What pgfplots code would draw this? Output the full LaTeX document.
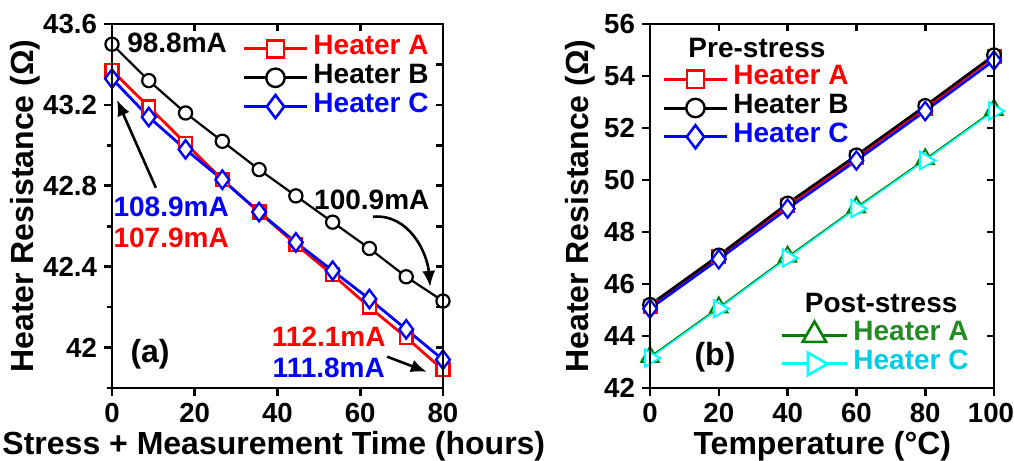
\documentclass[border=0pt]{standalone}
\usepackage{pgfplots}
\pgfplotsset{compat=1.18}
\usepackage{fontspec}
\setmainfont{Liberation Sans}
\usetikzlibrary{arrows.meta}
\definecolor{pgreen}{RGB}{0,128,0}
\definecolor{tgreen}{RGB}{34,139,34}
\definecolor{pcyan}{RGB}{0,255,255}
\definecolor{tcyan}{RGB}{0,204,230}
\newcommand{\fs}[1]{\fontsize{#1}{#1}\selectfont\bfseries}
\pgfplotsset{
  myaxis/.style={scale only axis, clip=false,
    axis line style={line width=1.3pt},
    tick style={line width=1.3pt, black},
    major tick length=4pt, minor tick length=2.5pt,
    tick label style={font=\fs{13.8}},
    /pgf/number format/assume math mode=true,
    legend cell align=left,
    legend image code/.code={\draw[mark repeat=2,mark phase=2,line width=1.5pt,##1] plot coordinates {(0pt,0pt) (15.75pt,0pt) (31.5pt,0pt)};},
  },
  overaxis/.style={scale only axis, clip=false,
    axis line style={line width=1.3pt},
    tick style={line width=1.3pt, black},
    major tick length=3.5pt,
    tick pos=right, tick align=inside,
    xticklabels={}, yticklabels={},
  },
  leg/.style={draw=none, fill=none, inner sep=0pt, font=\fs{14}, column sep=2.5pt,
    nodes={inner sep=0pt, text height=10pt, text depth=4.4pt}},
}
\begin{document}
\begin{tikzpicture}
\useasboundingbox (0,0) rectangle (507pt,230.5pt);
% ---------------- (a)
\begin{axis}[myaxis, at={(56pt,36.5pt)}, anchor=south west, width=165.5pt, height=182pt,
  xmin=0, xmax=80, ymin=41.8, ymax=43.6,
  xtick={0,20,40,60,80}, ytick={42,42.4,42.8,43.2,43.6},
  minor ytick={41.8,42.2,42.6,43.0,43.4},
  tick pos=left, tick align=outside,
  yticklabel style={/pgf/number format/.cd, fixed, precision=1},
  xlabel={Stress + Measurement Time (hours)},
  ylabel={Heater Resistance (Ω)},
  every axis x label/.style={at={(axis description cs:0.489,-0.184)}, anchor=base, font=\fs{16}},
  every axis y label/.style={at={(axis description cs:-0.263,0.5)}, rotate=90, anchor=center, font=\fs{16}},
  legend style={leg, at={(0.393,0.972)}, anchor=north west},
]
\addlegendimage{red, line width=1.5pt, mark=square*, mark size=4.3pt, mark options={fill=white, line width=1.3pt}}
\addlegendentry{\textcolor{red}{Heater A}}
\addlegendimage{black, line width=1.5pt, mark=*, mark size=4.6pt, mark options={fill=white, line width=1.2pt}}
\addlegendentry{\textcolor{black}{Heater B}}
\addlegendimage{blue, line width=1.5pt, mark=diamond*, mark size=5.8pt, mark options={fill=white, line width=1.3pt}}
\addlegendentry{\textcolor{blue}{Heater C}}
\addplot[red, line width=1.4pt, mark=square*, mark size=3.2pt, mark options={fill=white, line width=1.2pt}] coordinates {
(0,43.37) (8.89,43.19) (17.78,43.01) (26.67,42.83) (35.56,42.67) (44.44,42.51) (53.33,42.36) (62.22,42.20) (71.11,42.05) (80,41.89)};
\addplot[black, line width=1.1pt, mark=*, mark size=3.3pt, mark options={fill=white, line width=1.1pt}] coordinates {
(0,43.50) (8.89,43.32) (17.78,43.16) (26.67,43.02) (35.56,42.88) (44.44,42.75) (53.33,42.62) (62.22,42.49) (71.11,42.35) (80,42.23)};
\addplot[blue, line width=1.4pt, mark=diamond*, mark size=4.6pt, mark options={fill=white, line width=1.2pt}] coordinates {
(0,43.33) (8.89,43.14) (17.78,42.98) (26.67,42.83) (35.56,42.67) (44.44,42.52) (53.33,42.38) (62.22,42.24) (71.11,42.09) (80,41.94)};
\node[font=\fs{14}, anchor=west, inner sep=0pt] at (axis cs:3.6,43.506) {98.8mA};
\node[font=\fs{14}, text=blue, inner sep=0pt] at (axis cs:14.3,42.696) {108.9mA};
\node[font=\fs{14}, text=red, inner sep=0pt] at (axis cs:14.3,42.543) {107.9mA};
\node[font=\fs{14}, inner sep=0pt] at (axis cs:62.8,42.73) {100.9mA};
\node[font=\fs{14}, text=red, inner sep=0pt] at (axis cs:52.4,42.054) {112.1mA};
\node[font=\fs{14}, text=blue, inner sep=0pt] at (axis cs:52.4,41.90) {111.8mA};
\node[font=\fs{16}, inner sep=0pt] at (axis cs:9.2,41.965) {(a)};
\draw[line width=1.3pt, -{Latex[length=8pt,width=6.5pt]}] (axis cs:10.6,42.79) -- (axis cs:1.2,43.225);
\draw[line width=1.3pt, -{Latex[length=8pt,width=6.5pt]}] (axis cs:63.1,42.647) to[out=5,in=95] (axis cs:76.9,42.30);
\draw[line width=1.3pt, -{Latex[length=8pt,width=6.5pt]}] (axis cs:66.5,41.955) -- (axis cs:76.1,41.88);
\end{axis}
\begin{axis}[overaxis, at={(56pt,36.5pt)}, anchor=south west, width=165.5pt, height=182pt,
  xmin=0, xmax=80, ymin=41.8, ymax=43.6,
  xtick={0,20,40,60,80}, ytick={41.8,42,42.2,42.4,42.6,42.8,43,43.2,43.4,43.6}]
\end{axis}
% ---------------- (b)
\begin{axis}[myaxis, at={(325pt,36.5pt)}, anchor=south west, width=172pt, height=182pt,
  xmin=0, xmax=100, ymin=42, ymax=56,
  xtick={0,20,40,60,80,100}, ytick={42,44,...,56},
  xticklabels={0,20,40,60,80,\hspace{-3pt}100},
  tick pos=left, tick align=outside,
  xlabel={Temperature (°C)},
  ylabel={Heater Resistance (Ω)},
  every axis x label/.style={at={(axis description cs:0.501,-0.184)}, anchor=base, font=\fs{16}},
  every axis y label/.style={at={(axis description cs:-0.2035,0.5)}, rotate=90, anchor=center, font=\fs{16}},
  legend style={leg, at={(0.035,0.889)}, anchor=north west},
]
\addlegendimage{red, line width=1.5pt, mark=square*, mark size=4.3pt, mark options={fill=white, line width=1.3pt}}
\addlegendentry{\textcolor{red}{Heater A}}
\addlegendimage{black, line width=1.5pt, mark=*, mark size=4.6pt, mark options={fill=white, line width=1.2pt}}
\addlegendentry{\textcolor{black}{Heater B}}
\addlegendimage{blue, line width=1.5pt, mark=diamond*, mark size=5.8pt, mark options={fill=white, line width=1.3pt}}
\addlegendentry{\textcolor{blue}{Heater C}}
\addplot[red, line width=1.3pt, mark=square*, mark size=3.2pt, mark options={fill=white, line width=1.1pt}, forget plot] coordinates {
(0,45.15) (20,47.05) (40,49.0) (60,50.85) (80,52.75) (100,54.75)};
\addplot[black, line width=1.3pt, mark=*, mark size=3.4pt, mark options={fill=white, line width=1.1pt}, forget plot] coordinates {
(0,45.2) (20,47.1) (40,49.1) (60,50.95) (80,52.85) (100,54.8)};
\addplot[blue, line width=1.3pt, mark=diamond*, mark size=4.6pt, mark options={fill=white, line width=1.1pt}, forget plot] coordinates {
(0,45.05) (20,46.95) (40,48.9) (60,50.75) (80,52.65) (100,54.6)};
\addplot[pgreen, line width=0.7pt, mark=triangle*, mark size=5pt, mark options={fill=white, line width=1pt}, forget plot] coordinates {
(0,43.2) (20,45.1) (40,47.05) (60,48.95) (80,50.8) (100,52.7)};
\addplot[pcyan, line width=0.7pt, mark=triangle*, mark size=5pt, mark options={fill=white, line width=1pt, rotate=-90}, forget plot] coordinates {
(0,43.15) (20,45.05) (40,47.0) (60,48.9) (80,50.75) (100,52.65)};
\node[font=\fs{14}, inner sep=0pt] at (axis cs:31.1,55.08) {Pre-stress};
\node[font=\fs{14}, inner sep=0pt] at (axis cs:67.2,45.25) {Post-stress};
\node[font=\fs{16}, inner sep=0pt] at (axis cs:18.9,43.19) {(b)};
\end{axis}
\begin{axis}[overaxis, at={(325pt,36.5pt)}, anchor=south west, width=172pt, height=182pt,
  xmin=0, xmax=100, ymin=42, ymax=56,
  xtick={0,20,40,60,80,100}, ytick={42,44,...,56},
  legend cell align=left,
  legend image code/.code={\draw[mark repeat=2,mark phase=2,line width=1.5pt,#1] plot coordinates {(0pt,0pt) (16.25pt,0pt) (32.5pt,0pt)};},
  legend style={leg, at={(0.378,0.186)}, anchor=north west},
]
\addlegendimage{pgreen, line width=1.5pt, mark=triangle*, mark size=6.8pt, mark options={fill=white, line width=1.3pt}}
\addlegendentry{\textcolor{tgreen}{Heater A}}
\addlegendimage{pcyan, line width=1.5pt, mark=triangle*, mark size=6.5pt, mark options={fill=white, line width=1.3pt, rotate=-90}}
\addlegendentry{\textcolor{tcyan}{Heater C}}
\end{axis}
\end{tikzpicture}
\end{document}
